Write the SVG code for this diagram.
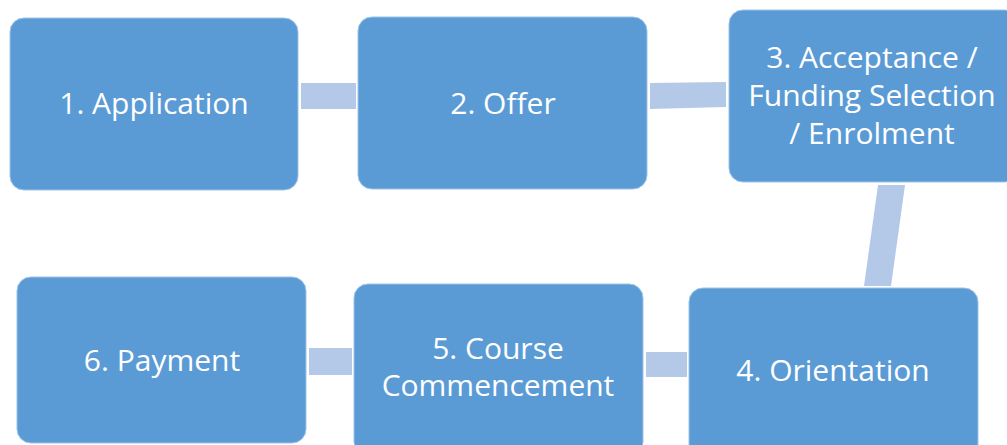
<svg xmlns="http://www.w3.org/2000/svg" width="1007" height="445" viewBox="0 0 1007 445">
<style>
.box{fill:#5B9BD5;stroke:#9DC3E6;stroke-width:1}
.lbl{fill:#ffffff;font-family:"Open Sans","Liberation Sans",sans-serif;font-size:30px;text-anchor:middle}
.con{fill:#B4C9E7}
</style>
<rect width="1007" height="445" fill="#ffffff"/>
<g id="connectors">
<polygon class="con" points="301,83 356,83 356,109 301,109"/>
<polygon class="con" points="650,83 726,82 726,107 650,109"/>
<polygon class="con" points="878,185 905,185 891,286 864,286"/>
<polygon class="con" points="646,352 687,352 687,377 646,377"/>
<polygon class="con" points="309,348 352,348 352,375 309,375"/>
</g>
<g id="node1">
<rect class="box" x="10" y="18" width="288" height="172" rx="14"/>
<text class="lbl" x="154" y="114">1. Application</text>
</g>
<g id="node2">
<rect class="box" x="358" y="17" width="289" height="172" rx="14"/>
<text class="lbl" x="503" y="114">2. Offer</text>
</g>
<g id="node3">
<rect class="box" x="729" y="10" width="290" height="172" rx="14"/>
<text class="lbl" x="872" y="68">3. Acceptance /</text>
<text class="lbl" x="872" y="106">Funding Selection</text>
<text class="lbl" x="872" y="144">/ Enrolment</text>
</g>
<g id="node4">
<rect class="box" x="689" y="288" width="289" height="172" rx="14"/>
<text class="lbl" x="833" y="381">4. Orientation</text>
</g>
<g id="node5">
<rect class="box" x="354" y="284" width="289" height="172" rx="14"/>
<text class="lbl" x="498" y="359">5. Course</text>
<text class="lbl" x="498" y="396">Commencement</text>
</g>
<g id="node6">
<rect class="box" x="17" y="277" width="289" height="166" rx="14"/>
<text class="lbl" x="162" y="371">6. Payment</text>
</g>
</svg>
